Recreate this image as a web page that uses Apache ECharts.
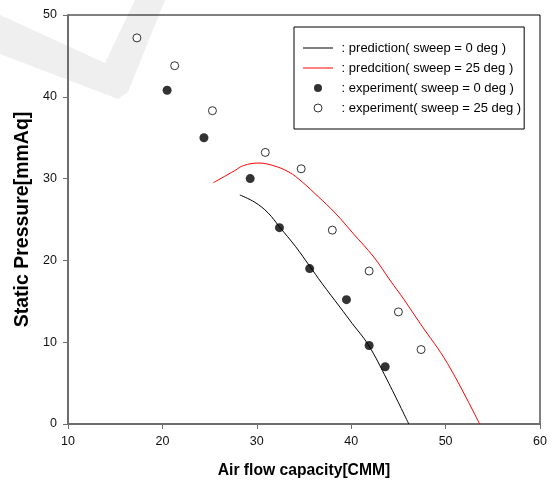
<!DOCTYPE html>
<html>
<head>
<meta charset="utf-8">
<script src="https://cdn.jsdelivr.net/npm/echarts@6/dist/echarts.min.js"></script>
<style>
  html, body { margin: 0; padding: 0; background: #fff; }
  #chart { width: 552px; height: 495px; }
</style>
</head>
<body>
<div id="chart"></div>
<script>
// Fan performance: static pressure against air flow, predicted curves and measured points
const flowPred0 = [28.2, 29.8, 31.2, 32.4, 34.1, 35.6, 36.9, 38.8, 40.1, 41.8, 43.8, 46.1];
const pressPred0 = [28.0, 27.1, 25.8, 24.1, 21.7, 19.3, 17.2, 14.3, 12.3, 9.7, 5.4, 0];

const flowPred25 = [25.4, 27.7, 28.6, 30.2, 31.7, 33.4, 34.8, 36.5, 38.3, 40.2, 42.4, 44.1, 45.6, 47.3, 50.2, 53.6];
const pressPred25 = [29.5, 31.0, 31.6, 31.9, 31.6, 30.8, 29.6, 27.8, 25.8, 23.3, 20.4, 17.6, 15.2, 12.3, 7.4, 0];

const flowExp0 = [20.5, 24.4, 29.3, 32.4, 35.6, 39.5, 41.9, 43.6];
const pressExp0 = [40.8, 35.0, 30.0, 24.0, 19.0, 15.2, 9.6, 7.0];

const flowExp25 = [17.3, 21.3, 25.3, 30.9, 34.7, 38.0, 41.9, 45.0, 47.4];
const pressExp25 = [47.2, 43.8, 38.3, 33.2, 31.2, 23.7, 18.7, 13.7, 9.1];

const seriesNames = [
  'prediction( sweep = 0 deg )',
  'predcition( sweep = 25 deg )',
  'experiment( sweep = 0 deg )',
  'experiment( sweep = 25 deg )'
];

const xTitle = 'Air flow capacity[CMM]';
const yTitle = 'Static Pressure[mmAq]';

function pairs(xs, ys) {
  return xs.map((x, i) => [x, ys[i]]);
}

const font = '"Liberation Sans", Arial, Helvetica, sans-serif';
const axisGray = '#6e6e6e';

const chart = echarts.init(document.getElementById('chart'), null, { renderer: 'canvas' });

chart.setOption({
  animation: false,
  backgroundColor: '#ffffff',
  graphic: [{
    type: 'polygon',
    silent: true,
    z: -100,
    shape: {
      points: [[0, 15], [105, 63], [135, 0], [165, 0], [128, 92], [118, 99], [0, 54]]
    },
    style: { fill: '#efefef' }
  }],
  grid: {
    left: 68, right: 12, top: 15, bottom: 71,
    show: true,
    borderColor: '#000',
    borderWidth: 1,
    backgroundColor: 'transparent'
  },
  legend: {
    orient: 'vertical',
    left: 294,
    top: 27,
    padding: [14, 3, 14, 9],
    itemWidth: 30,
    itemHeight: 8,
    itemGap: 6,
    borderColor: '#000',
    borderWidth: 1,
    backgroundColor: '#fff',
    selectedMode: false,
    formatter: name => ' : ' + name,
    textStyle: { fontFamily: font, fontSize: 13, color: '#000', lineHeight: 14 },
    data: [
      { name: seriesNames[0], icon: 'path://M0,0H30V1H0Z', itemStyle: { color: '#000', borderWidth: 0 } },
      { name: seriesNames[1], icon: 'path://M0,0H30V1H0Z', itemStyle: { color: '#ff0000', borderWidth: 0 } },
      { name: seriesNames[2], icon: 'circle', itemStyle: { color: '#000', borderWidth: 0 } },
      { name: seriesNames[3], icon: 'circle', itemStyle: { color: '#fff', borderColor: '#000', borderWidth: 1 } }
    ]
  },
  xAxis: {
    type: 'value',
    min: 10, max: 60, interval: 10,
    name: xTitle,
    nameLocation: 'middle',
    nameGap: 39,
    nameTextStyle: { fontFamily: font, fontWeight: 'bold', fontSize: 15.7, color: '#000' },
    axisLine: { lineStyle: { color: axisGray, width: 2 } },
    axisTick: { show: true, length: 5, lineStyle: { color: axisGray, width: 1 } },
    axisLabel: { margin: 11, fontFamily: font, fontSize: 12.5, color: '#111' },
    splitLine: { show: false }
  },
  yAxis: {
    type: 'value',
    min: 0, max: 50, interval: 10,
    name: yTitle,
    nameLocation: 'middle',
    nameRotate: 90,
    nameGap: 31,
    nameTextStyle: { fontFamily: font, fontWeight: 'bold', fontSize: 19.5, color: '#000' },
    axisLine: { lineStyle: { color: axisGray, width: 2 } },
    axisTick: { show: true, length: 5, lineStyle: { color: axisGray, width: 1 } },
    axisLabel: { margin: 11, fontFamily: font, fontSize: 12.5, color: '#111' },
    splitLine: { show: false }
  },
  series: [
    {
      name: seriesNames[0],
      type: 'line',
      data: pairs(flowPred0, pressPred0),
      symbol: 'none',
      smooth: 0.4,
      lineStyle: { color: '#000', width: 1 },
      itemStyle: { color: '#000' },
      z: 3
    },
    {
      name: seriesNames[1],
      type: 'line',
      data: pairs(flowPred25, pressPred25),
      symbol: 'none',
      smooth: 0.4,
      lineStyle: { color: '#ff0000', width: 1 },
      itemStyle: { color: '#ff0000' },
      z: 3
    },
    {
      name: seriesNames[2],
      type: 'scatter',
      data: pairs(flowExp0, pressExp0),
      symbol: 'circle',
      symbolSize: 9,
      itemStyle: { color: '#000', borderWidth: 0 },
      z: 4
    },
    {
      name: seriesNames[3],
      type: 'scatter',
      data: pairs(flowExp25, pressExp25),
      symbol: 'circle',
      symbolSize: 8,
      itemStyle: { color: '#fff', borderColor: '#000', borderWidth: 1 },
      z: 4
    }
  ]
});
</script>
</body>
</html>
